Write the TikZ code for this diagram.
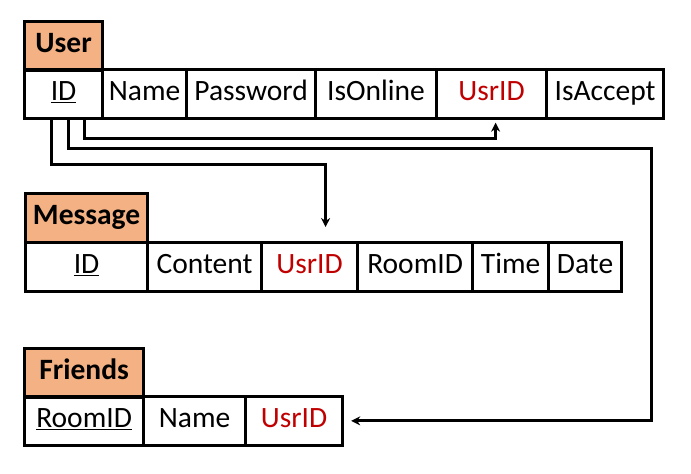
\documentclass[tikz,border=0pt]{standalone}
\usepackage{fontspec}
\setmainfont{Carlito}
\usetikzlibrary{arrows.meta}
\definecolor{tblhead}{HTML}{F4B183}
\definecolor{fkred}{HTML}{C00000}

\begin{document}
\begin{tikzpicture}[x=1pt,y=-1pt,>={Stealth[length=9pt,width=9pt]},font=\fontsize{29.5}{34}\selectfont]
\tikzstyle{cell} = [draw=black, line width=3.2pt, inner sep=0pt, anchor=north west, minimum height=48.5pt, text height=20pt, text depth=6pt]
\tikzstyle{head} = [cell, fill=tblhead, font=\fontsize{29.5}{34}\selectfont\bfseries]
\tikzstyle{fkey} = [cell, text=fkred]
\tikzstyle{link} = [line width=3pt, ->]

\useasboundingbox (0,0) rectangle (691,474);

% User
\node (user) at (23,20) [head, minimum width=78pt] {User};
\node (uid) at (23,68) [cell, minimum width=78pt] {\underline{ID}};
\node (uname) at (101,68) [cell, minimum width=84pt] {Name};
\node (upass) at (185,68) [cell, minimum width=129pt] {Password};
\node (uonl) at (314,68) [cell, minimum width=121pt] {IsOnline};
\node (uusr) at (435,68) [fkey, minimum width=110pt] {UsrID};
\node (uacc) at (545,68) [cell, minimum width=117pt] {IsAccept};

% Message
\node (msg) at (24,192) [head, minimum width=122pt] {Message};
\node (mid) at (24,241) [cell, minimum width=122pt] {\underline{ID}};
\node (mcont) at (146,241) [cell, minimum width=114pt] {Content};
\node (musr) at (260,241) [fkey, minimum width=96pt] {UsrID};
\node (mroom) at (356,241) [cell, minimum width=115pt] {RoomID};
\node (mtime) at (471,241) [cell, minimum width=76pt] {Time};
\node (mdate) at (547,241) [cell, minimum width=73pt] {Date};

% Friends
\node (frnd) at (23,347) [head, minimum width=119pt] {Friends};
\node (froom) at (23,395) [cell, minimum width=119pt] {\underline{RoomID}};
\node (fname) at (142,395) [cell, minimum width=102pt] {Name};
\node (fusr) at (244,395) [fkey, minimum width=97pt] {UsrID};

\coordinate (turn) at (651,148);

% foreign keys
\draw[link, shorten >=3pt] ([xshift=21pt]uid.south) -- ++(0,19) -| ([xshift=4pt]uusr.south);
\draw[link, shorten >=7pt] ([xshift=5pt]uid.south) |- (turn) |- (fusr.east);
\draw[link, shorten >=14pt] ([xshift=-12pt]uid.south) -- ++(0,45) -| ([xshift=16pt]musr.north);

\end{tikzpicture}
\end{document}
